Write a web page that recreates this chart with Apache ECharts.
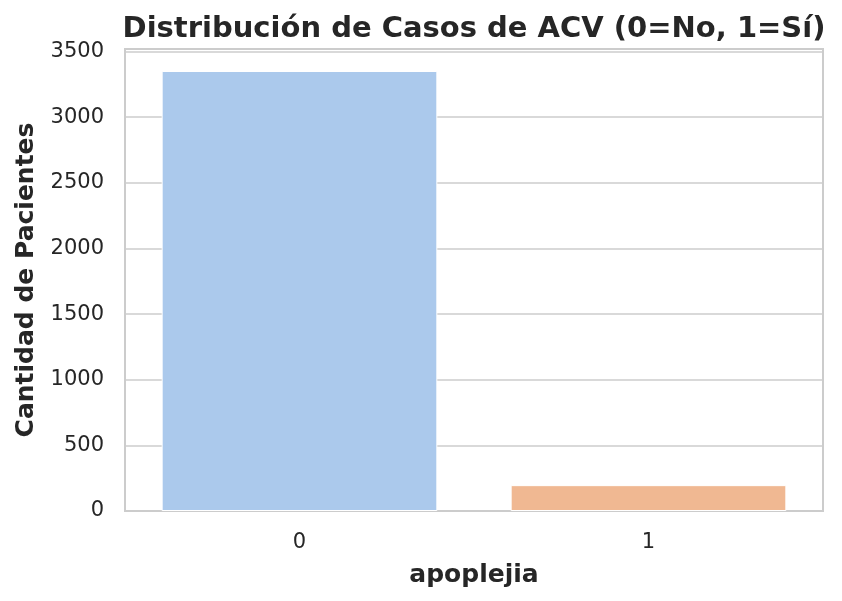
<!DOCTYPE html>
<html><head><meta charset="utf-8">
<script src="https://cdn.jsdelivr.net/npm/echarts@6/dist/echarts.min.js"></script>
<style>html,body{margin:0;padding:0;background:#fff}#c{width:842px;height:601px}</style>
</head><body><div id="c"></div>
<script>
const categories = ['0', '1'];
const counts = [3352, 197];
const barColors = ['#abc9ec', '#f0b892'];
const yTicks = [0, 500, 1000, 1500, 2000, 2500, 3000, 3500];

const chart = echarts.init(document.getElementById('c'));
const font = 'DejaVu Sans';
chart.setOption({
  animation: false,
  backgroundColor: '#ffffff',
  title: {
    text: 'Distribución de Casos de ACV (0=No, 1=Sí)',
    left: 469, top: 10, textAlign: 'center',
    textStyle: {fontFamily: font, fontSize: 29, fontWeight: 'bold', color: '#262626'}
  },
  grid: {left: 125, right: 19, top: 49, bottom: 90, containLabel: false, outerBoundsMode: 'none',
    show: true, borderColor: '#cccccc', borderWidth: 2, backgroundColor: 'transparent'},
  xAxis: {
    type: 'category', data: categories,
    name: 'apoplejia', nameLocation: 'middle', nameGap: 52,
    nameTextStyle: {fontFamily: font, fontSize: 25, fontWeight: 'bold', color: '#262626'},
    axisLine: {show: false}, axisTick: {show: false},
    axisLabel: {fontFamily: font, fontSize: 21, color: '#262626', margin: 21},
    splitLine: {show: false}
  },
  yAxis: {
    type: 'value', min: 0, max: Math.max(...counts) * 1.05, interval: 500,
    name: 'Cantidad de Pacientes', nameLocation: 'middle', nameGap: 86,
    nameTextStyle: {fontFamily: font, fontSize: 25, fontWeight: 'bold', color: '#262626'},
    axisLine: {show: false}, axisTick: {show: false},
    axisLabel: {fontFamily: font, fontSize: 21, color: '#262626', margin: 21, showMaxLabel: false,
      padding: [5, 0, 0, 0],
      formatter: v => yTicks.includes(v) ? String(v) : ''},
    splitLine: {lineStyle: {color: '#cccccc', width: 1.6}}
  },
  series: [{
    type: 'bar', barWidth: '79%',
    data: counts.map((v, i) => ({value: v, itemStyle: {color: barColors[i]}})),
    itemStyle: {borderColor: '#ffffff', borderWidth: 1}
  }]
});
</script></body></html>
